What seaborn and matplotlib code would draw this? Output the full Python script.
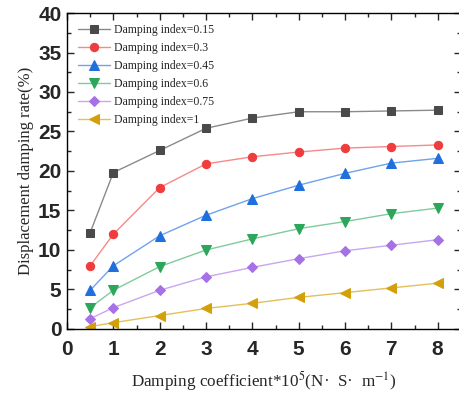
import numpy as np
import pandas as pd
import matplotlib
matplotlib.use("Agg")
import matplotlib.pyplot as plt
import seaborn as sns
from matplotlib.ticker import MultipleLocator

x_vals = [0.5, 1, 2, 3, 4, 5, 6, 7, 8]
labels = ["Damping index=0.15", "Damping index=0.3", "Damping index=0.45",
          "Damping index=0.6", "Damping index=0.75", "Damping index=1"]
s015 = [12.2, 19.8, 22.6, 25.4, 26.7, 27.5, 27.5, 27.6, 27.7]
s03 = [8.0, 12.0, 17.9, 20.9, 21.8, 22.4, 22.9, 23.1, 23.3]
s045 = [4.9, 8.0, 11.8, 14.4, 16.5, 18.2, 19.7, 21.0, 21.6]
s06 = [2.7, 4.9, 7.9, 10.0, 11.4, 12.7, 13.6, 14.6, 15.3]
s075 = [1.3, 2.7, 4.9, 6.6, 7.8, 8.9, 9.9, 10.6, 11.3]
s1 = [0.3, 0.8, 1.7, 2.6, 3.25, 4.0, 4.6, 5.2, 5.8]
series = [s015, s03, s045, s06, s075, s1]

rows = []
for lab, ys in zip(labels, series):
    for xv, yv in zip(x_vals, ys):
        rows.append({"x": xv, "y": yv, "series": lab})
df = pd.DataFrame(rows)

sns.set_style("ticks")
plt.rcParams["mathtext.fontset"] = "stix"
colors = ["#4a4a4a", "#f03c3c", "#1f6fdc", "#2ca65a", "#a670e6", "#d4a00a"]
line_colors = ["#8a8a8a", "#f58a8a", "#6fa3ea", "#7fcc9a", "#c9a6f0", "#e3c05a"]
markers = ["s", "o", "^", "v", "D", "<"]
msizes = [5.5, 6, 6.5, 6.5, 5, 6.5]

fig = plt.figure(figsize=(4.59, 3.94), dpi=100)
ax = fig.add_axes([0.146, 0.165, 0.858, 0.802])

for i, lab in enumerate(labels):
    sub = df[df["series"] == lab]
    sns.lineplot(data=sub, x="x", y="y", ax=ax, color=line_colors[i],
                 marker=markers[i], markersize=msizes[i],
                 markerfacecolor=colors[i], markeredgecolor=colors[i],
                 linewidth=1.0, label=lab)

ax.set_xlim(0, 8.5)
ax.set_ylim(0, 40)
ax.xaxis.set_major_locator(MultipleLocator(1))
ax.xaxis.set_minor_locator(MultipleLocator(0.5))
ax.yaxis.set_major_locator(MultipleLocator(5))
ax.yaxis.set_minor_locator(MultipleLocator(2.5))
ax.tick_params(which="both", direction="in", top=True, right=True, width=1.0)
ax.tick_params(which="major", length=5)
ax.tick_params(which="minor", length=3)
for sp in ax.spines.values():
    sp.set_linewidth(1.0)
    sp.set_color("black")

for t in ax.get_xticklabels() + ax.get_yticklabels():
    t.set_fontfamily("Liberation Sans")
    t.set_fontweight("bold")
    t.set_fontsize(15)
ax.tick_params(axis="x", pad=8)
ax.tick_params(axis="y", pad=4)

ax.set_xlabel("Damping coefficient*10$^5$(N·  S·  m$^{-1}$)",
              fontfamily="Liberation Serif", fontsize=12.3, labelpad=7)
ax.set_ylabel("Displacement damping rate(%)",
              fontfamily="Liberation Serif", fontsize=12, labelpad=3)

leg = ax.legend(loc="upper left", frameon=False, handlelength=2.7,
                prop={"family": "Liberation Serif", "size": 8.5},
                labelspacing=0.5, borderaxespad=0.55, handletextpad=0.3)

fig.savefig("out.png", dpi=100)
